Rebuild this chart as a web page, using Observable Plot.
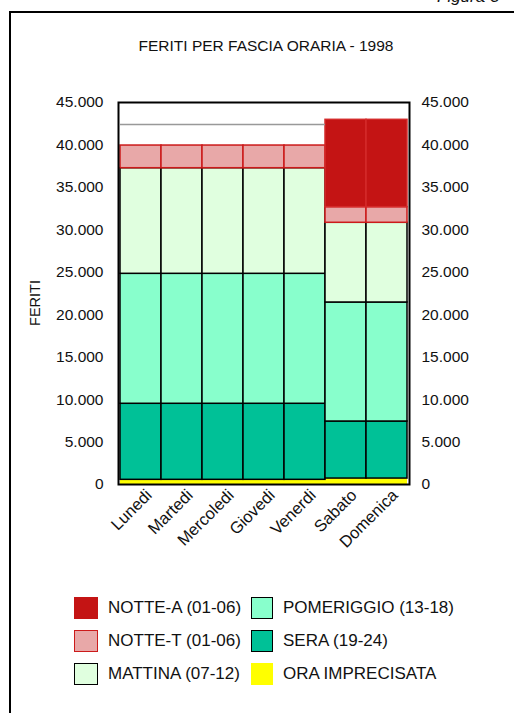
<!DOCTYPE html>
<html>
<head>
<meta charset="utf-8">
<script src="https://cdn.jsdelivr.net/npm/d3@7"></script>
<script src="https://cdn.jsdelivr.net/npm/@observablehq/plot@0.6"></script>
<style>
  html, body { margin: 0; padding: 0; background: #fff; }
  body { width: 514px; height: 713px; overflow: hidden; position: relative; font-family: "Liberation Sans", Arial, sans-serif; color: #111; }
  #frame { position: absolute; left: 9px; top: 11px; width: 700px; height: 900px; border-left: 2px solid #000; border-top: 2px solid #000; }
  #figura { position: absolute; left: 437px; top: -13px; font-size: 17px; font-style: italic; white-space: nowrap; }
  #title { position: absolute; left: 0; width: 532px; top: 37px; text-align: center; font-size: 15.5px; white-space: nowrap; }
  #chart { position: absolute; left: 0; top: 0; }
  #ylab { position: absolute; left: 35px; top: 303px; transform: translate(-50%, -50%) rotate(-90deg); font-size: 14.5px; white-space: nowrap; }
  .leg { position: absolute; display: flex; align-items: center; font-size: 17px; white-space: nowrap; }
  .sw { width: 21px; height: 21px; box-sizing: border-box; margin-right: 10px; border: 1.5px solid #000; }
</style>
</head>
<body>
<div id="frame"></div>
<div id="figura">Figura 3</div>
<div id="title">FERITI PER FASCIA ORARIA - 1998</div>
<div id="chart"></div>
<div id="ylab">FERITI</div>
<div id="legend"></div>
<script>
// ---- data ----
const giorni = ["Lunedi", "Martedi", "Mercoledi", "Giovedi", "Venerdi", "Sabato", "Domenica"];
const oraImprecisata = [550, 550, 550, 550, 550, 700, 700];
const sera = [8960, 8960, 8960, 8960, 8960, 6720, 6720];
const pomeriggio = [15310, 15310, 15310, 15310, 15310, 14020, 14020];
const mattina = [12440, 12440, 12440, 12440, 12440, 9390, 9390];
const notteT = [2670, 2670, 2670, 2670, 2670, 1840, 1840];
const notteA = [2480, 2480, 2480, 2480, 2480, 10290, 10290];
const feriali = ["Lunedi", "Martedi", "Mercoledi", "Giovedi", "Venerdi"];
const yTicks = [0, 5000, 10000, 15000, 20000, 25000, 30000, 35000, 40000, 45000];

const serie = [
  {name: "ORA IMPRECISATA", values: oraImprecisata, fill: "#ffff00", stroke: "none"},
  {name: "SERA (19-24)", values: sera, fill: "#00c197", stroke: "#000"},
  {name: "POMERIGGIO (13-18)", values: pomeriggio, fill: "#88ffcc", stroke: "#000"},
  {name: "MATTINA (07-12)", values: mattina, fill: "#e0ffdf", stroke: "#000"},
  {name: "NOTTE-T (01-06)", values: notteT, fill: "#e8a8a8", stroke: "#cc1a1a"},
  {name: "NOTTE-A (01-06)", values: notteA, fill: "#c41414", stroke: "#d42a2a"}
];
const ordine = serie.map(s => s.name);

const rows = [];
serie.forEach(s => giorni.forEach((g, i) => {
  const hollow = s.name === "NOTTE-A (01-06)" && feriali.includes(g);
  rows.push({giorno: g, serie: s.name, value: s.values[i],
             fill: hollow ? "none" : s.fill, stroke: hollow ? "none" : s.stroke});
}));
const totaliFeriali = feriali.map(g => ({giorno: g,
  totale: d3.sum(rows.filter(r => r.giorno === g), r => r.value)}));

const fmt = d => d3.format(",")(d).replace(/,/g, ".");

const chart = Plot.plot({
  width: 514, height: 570,
  marginLeft: 118, marginRight: 105, marginTop: 102, marginBottom: 86,
  style: {fontFamily: "'Liberation Sans', Arial, sans-serif", fontSize: "15px", color: "#111", background: "transparent"},
  x: {domain: giorni, padding: 0, label: null},
  y: {domain: [0, 45000], label: null},
  color: {type: "identity"},
  marks: [
    Plot.barY(rows, {x: "giorno", y: "value", z: "serie", order: ordine,
                     fill: "fill", stroke: "stroke", strokeWidth: 1.5}),
    Plot.tickY(totaliFeriali, {x: "giorno", y: "totale", stroke: "#999", strokeWidth: 1.5}),
    Plot.frame({stroke: "#000", strokeWidth: 2}),
    Plot.axisY({anchor: "left", ticks: yTicks, tickSize: 0, tickPadding: 15, tickFormat: fmt, label: null, fontSize: 15.5}),
    Plot.axisY({anchor: "right", ticks: yTicks, tickSize: 0, tickPadding: 12, tickFormat: fmt, label: null, fontSize: 15.5}),
    Plot.axisX({tickSize: 0, tickRotate: -45, tickPadding: 8, label: null, fontSize: 16.5, dx: 8})
  ]
});
document.getElementById("chart").appendChild(chart);

// ---- legend ----
const legendItems = [
  {s: "NOTTE-A (01-06)", x: 74, y: 608, border: "#c41414"},
  {s: "NOTTE-T (01-06)", x: 74, y: 641, border: "#cc1a1a"},
  {s: "MATTINA (07-12)", x: 74, y: 674, border: "#000"},
  {s: "POMERIGGIO (13-18)", x: 251, y: 608, border: "#000"},
  {s: "SERA (19-24)", x: 251, y: 641, border: "#000"},
  {s: "ORA IMPRECISATA", x: 251, y: 674, border: "#ffff00"}
];
const leg = document.getElementById("legend");
legendItems.forEach(it => {
  const s = serie.find(d => d.name === it.s);
  const el = document.createElement("div");
  el.className = "leg";
  el.style.left = it.x + "px";
  el.style.top = (it.y - 12) + "px";
  el.style.height = "24px";
  const sw = document.createElement("div");
  sw.className = "sw";
  sw.style.background = s.fill;
  sw.style.borderColor = it.border;
  sw.style.width = it.x < 200 ? "24px" : "22px";
  sw.style.height = "22px";
  const t = document.createElement("span");
  t.textContent = s.name;
  el.appendChild(sw); el.appendChild(t);
  leg.appendChild(el);
});
</script>
</body>
</html>
